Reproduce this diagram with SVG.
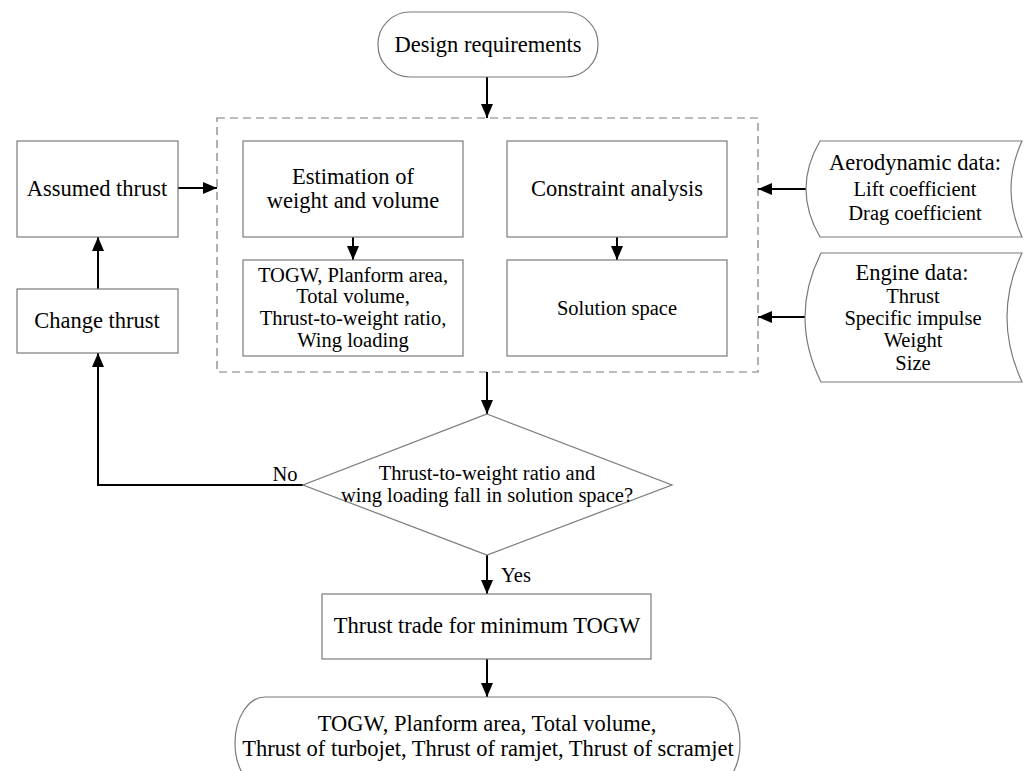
<svg xmlns="http://www.w3.org/2000/svg" width="1024" height="771" viewBox="0 0 1024 771">
<defs>
<marker id="ah" viewBox="0 0 14 12" refX="14" refY="6" markerWidth="14" markerHeight="12" markerUnits="userSpaceOnUse" orient="auto">
<path d="M0,0 L14,6 L0,12 Z" fill="#000"/>
</marker>
</defs>
<style>
.box{fill:#fff;stroke:#7a7a7a;stroke-width:1.2}
.dash{fill:none;stroke:#7a7a7a;stroke-width:1.2;stroke-dasharray:8,5}
.con{fill:none;stroke:#000;stroke-width:2}
.arr{marker-end:url(#ah)}
text{font-family:"Liberation Serif","Times New Roman",serif;fill:#000;text-anchor:middle}
.l{font-size:22.5px}
.s{font-size:20.5px}
</style>
<rect width="1024" height="771" fill="#fff"/>
<g id="container">
<rect class="dash" x="217" y="118" width="541" height="254"/>
</g>
<g id="connectors">
<line class="con arr" x1="487" y1="77" x2="487" y2="118"/>
<line class="con arr" x1="178" y1="188" x2="217" y2="188"/>
<line class="con arr" x1="98" y1="289" x2="98" y2="237"/>
<polyline class="con arr" points="303,485 98,485 98,353"/>
<line class="con arr" x1="353" y1="237" x2="353" y2="260"/>
<line class="con arr" x1="617" y1="237" x2="617" y2="260"/>
<line class="con arr" x1="806" y1="189" x2="758" y2="189"/>
<line class="con arr" x1="805" y1="317" x2="758" y2="317"/>
<line class="con arr" x1="487" y1="372" x2="487" y2="414"/>
<line class="con arr" x1="487" y1="555" x2="487" y2="594"/>
<line class="con arr" x1="487" y1="659" x2="487" y2="697"/>
<text class="s" x="285" y="481">No</text>
<text class="s" x="516" y="582">Yes</text>
</g>
<g id="design-requirements">
<rect class="box" x="378" y="12" width="220" height="65" rx="32" ry="32"/>
<text class="l" x="488" y="52">Design requirements</text>
</g>
<g id="assumed-thrust">
<rect class="box" x="17" y="141" width="161" height="96"/>
<text class="l" x="97" y="196">Assumed thrust</text>
</g>
<g id="change-thrust">
<rect class="box" x="17" y="289" width="161" height="64"/>
<text class="l" x="97" y="328">Change thrust</text>
</g>
<g id="estimation">
<rect class="box" x="243" y="141" width="220" height="96"/>
<text class="l" x="353" y="184">Estimation of</text>
<text class="l" x="353" y="208">weight and volume</text>
</g>
<g id="togw-results">
<rect class="box" x="243" y="260" width="220" height="96"/>
<text class="s" x="353" y="282">TOGW, Planform area,</text>
<text class="s" x="353" y="303">Total volume,</text>
<text class="s" x="353" y="325">Thrust-to-weight ratio,</text>
<text class="s" x="353" y="347">Wing loading</text>
</g>
<g id="constraint-analysis">
<rect class="box" x="507" y="141" width="220" height="96"/>
<text class="l" x="617" y="196">Constraint analysis</text>
</g>
<g id="solution-space">
<rect class="box" x="507" y="260" width="220" height="96"/>
<text class="s" x="617" y="315">Solution space</text>
</g>
<g id="aerodynamic-data">
<path class="box" d="M820,141 L1022,141 Q1000,189 1022,237 L820,237 Q792,189 820,141 Z"/>
<text class="l" x="915" y="170">Aerodynamic data:</text>
<text class="s" x="915" y="196">Lift coefficient</text>
<text class="s" x="915" y="220">Drag coefficient</text>
</g>
<g id="engine-data">
<path class="box" d="M821,253 L1022,253 Q992,317 1022,382 L821,382 Q789,317 821,253 Z"/>
<text class="l" x="912" y="280">Engine data:</text>
<text class="s" x="913" y="303">Thrust</text>
<text class="s" x="913" y="325">Specific impulse</text>
<text class="s" x="913" y="347">Weight</text>
<text class="s" x="913" y="370">Size</text>
</g>
<g id="decision">
<polygon class="box" points="487,414 672,485 487,555 303,485"/>
<text class="s" x="487" y="480">Thrust-to-weight ratio and</text>
<text class="s" x="487" y="502">wing loading fall in solution space?</text>
</g>
<g id="thrust-trade">
<rect class="box" x="322" y="594" width="329" height="65"/>
<text class="l" x="487" y="633">Thrust trade for minimum TOGW</text>
</g>
<g id="final-output">
<rect class="box" x="235" y="697" width="505" height="92" rx="30" ry="46"/>
<text class="l" x="487" y="731">TOGW, Planform area, Total volume,</text>
<text class="l" x="488" y="756">Thrust of turbojet, Thrust of ramjet, Thrust of scramjet</text>
</g>
</svg>
